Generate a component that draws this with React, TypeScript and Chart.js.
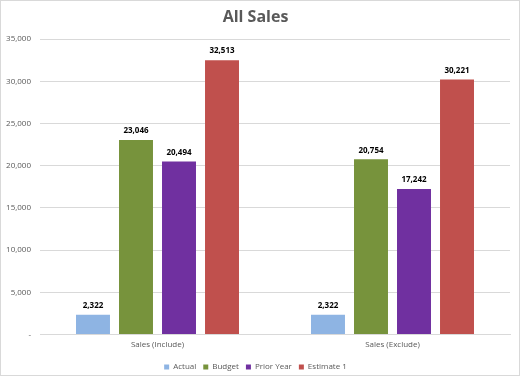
import React, { useEffect, useRef } from "react";
import { Chart, registerables } from "chart.js";

Chart.register(...registerables);

const categories = ["Sales (Include)", "Sales (Exclude)"];
const actual = [2322, 2322];
const budget = [23046, 20754];
const priorYear = [20494, 17242];
const estimate1 = [32513, 30221];
const seriesNames = ["Actual", "Budget", "Prior Year", "Estimate 1"];
const seriesColors = ["#8eb4e3", "#77933c", "#7030a0", "#c0504d"];
const yTicks = { min: 0, max: 35000, step: 5000 };

const FONT = "'Open Sans', 'Liberation Sans', sans-serif";

const fmt = (v: number) => (v === 0 ? "-" : v.toLocaleString("en-US"));

const dataLabels = {
  id: "dataLabels",
  afterDatasetsDraw(chart: any) {
    const ctx = chart.ctx;
    ctx.save();
    ctx.font = `bold 8px ${FONT}`;
    ctx.fillStyle = "#000000";
    ctx.textAlign = "center";
    ctx.textBaseline = "bottom";
    chart.data.datasets.forEach((ds: any, i: number) => {
      const meta = chart.getDatasetMeta(i);
      meta.data.forEach((bar: any, j: number) => {
        ctx.fillText(fmt(ds.data[j]), bar.x, bar.y - 5);
      });
    });
    ctx.restore();
  },
};

export default function App() {
  const ref = useRef<HTMLCanvasElement>(null);
  useEffect(() => {
    const data = [actual, budget, priorYear, estimate1];
    const chart = new Chart(ref.current!, {
      type: "bar",
      data: {
        labels: categories,
        datasets: seriesNames.map((name, i) => ({
          label: name,
          data: data[i],
          backgroundColor: seriesColors[i],
          categoryPercentage: 0.732,
          barPercentage: 0.79,
        })),
      },
      options: {
        animation: false,
        responsive: false,
        maintainAspectRatio: false,
        layout: { padding: { left: 0, right: 9, top: 0, bottom: -6 } },
        plugins: {
          title: {
            display: true,
            text: "All Sales",
            color: "#595959",
            font: { family: FONT, size: 16, weight: "bold" },
            padding: { top: 7, bottom: 12 },
          },
          legend: {
            position: "bottom",
            labels: {
              boxWidth: 5,
              boxHeight: 5,
              color: "#595959",
              font: { family: FONT, size: 8 },
              padding: 7,
            },
          },
          tooltip: { enabled: false },
        },
        scales: {
          x: {
            grid: { display: false, drawTicks: false },
            border: { color: "#d9d9d9" },
            ticks: { color: "#595959", font: { family: FONT, size: 8 }, padding: 6 },
          },
          y: {
            min: yTicks.min,
            max: yTicks.max,
            afterFit: (s: any) => {
              s.width = 39;
            },
            grid: { color: "#d9d9d9", drawTicks: false },
            border: { display: false },
            ticks: {
              stepSize: yTicks.step,
              color: "#595959",
              font: { family: FONT, size: 8 },
              padding: 9,
              callback: (v: any) => fmt(Number(v)),
            },
          },
        },
      },
      plugins: [dataLabels],
    });
    return () => chart.destroy();
  }, []);
  return (
    <div
      style={{
        position: "fixed",
        left: 0,
        top: 0,
        width: 520,
        height: 376,
        boxSizing: "border-box",
        border: "1px solid #d9d9d9",
        background: "#fff",
      }}
    >
      <canvas ref={ref} width={518} height={374} style={{ display: "block" }} />
    </div>
  );
}
